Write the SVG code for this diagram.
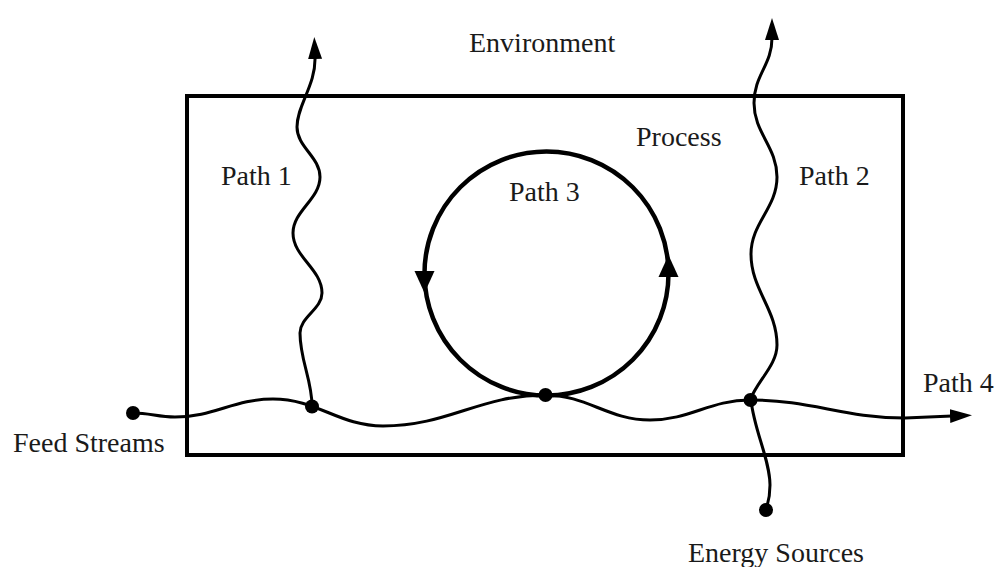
<svg xmlns="http://www.w3.org/2000/svg" width="997" height="567" viewBox="0 0 997 567">
  <style>
    .lbl { font-family: "Liberation Serif", "Times New Roman", serif; font-size: 28px; fill: #1a1a1a; }
    .wave { fill: none; stroke: #000; stroke-width: 3; stroke-linecap: round; stroke-linejoin: round; }
    .box { fill: none; stroke: #000; stroke-width: 4; }
    .loop { fill: none; stroke: #000; stroke-width: 4.5; }
    .dot { fill: #000; }
    .head { fill: #000; }
  </style>
  <defs>
    <marker id="arrow" markerUnits="userSpaceOnUse" markerWidth="24" markerHeight="16" refX="2" refY="7" orient="auto">
      <path d="M0,0 L22,7 L0,14 z" fill="#000"/>
    </marker>
  </defs>
  <rect width="997" height="567" fill="#fff"/>

  <g id="environment">
    <text class="lbl" x="469" y="52">Environment</text>
  </g>

  <g id="process">
    <rect class="box" x="187" y="96" width="716" height="359"/>
    <text class="lbl" x="636" y="146">Process</text>
  </g>

  <g id="path3">
    <circle class="loop" cx="546.5" cy="273.5" r="122"/>
    <polygon class="head" points="414.5,271 434.5,271 424.5,293"/>
    <polygon class="head" points="658.5,277 678.5,277 668.5,255"/>
    <text class="lbl" x="509" y="201">Path 3</text>
  </g>

  <g id="connectors">
    <path id="path4-line" class="wave" marker-end="url(#arrow)" d="M133,413 C150,413 158,417 175,417 C214,417 234,399 273,399 C317,399 339,426 383,426 C448,426 480,395 545,395 C587,395 608,420 650,420 C690,420 710,400 750,400 C812,400 843,418 905,418 L952,416"/>
    <path id="path1-line" class="wave" marker-end="url(#arrow)" d="M312,406 C312,380 300,360 300,333 C300,317 322,309 322,293 C322,269 293,257 293,233 C293,211 320,199 320,177 C320,157 297,147 297,127 C297,105 316,85 315,57"/>
    <path id="path2-line" class="wave" marker-end="url(#arrow)" d="M750,400 C758,380 777,365 777,345 C777,309 751,290 751,254 C751,223 777,208 777,177 C777,147 754,133 754,103 C754,75 772,65 772,38"/>
    <path id="energy-line" class="wave" d="M751,400 C754,430 770,460 770,485 C770,500 767,505 766,510"/>
  </g>

  <g id="feed-streams">
    <circle class="dot" cx="133" cy="413" r="7"/>
    <text class="lbl" x="13" y="452">Feed Streams</text>
  </g>
  <g id="junction-1">
    <circle class="dot" cx="312" cy="406.5" r="7"/>
  </g>
  <g id="junction-3">
    <circle class="dot" cx="545.5" cy="395" r="7"/>
  </g>
  <g id="junction-2">
    <circle class="dot" cx="750.5" cy="400" r="7"/>
  </g>
  <g id="energy-sources">
    <circle class="dot" cx="766" cy="510" r="7"/>
    <text class="lbl" x="688" y="562">Energy Sources</text>
  </g>

  <g id="labels">
    <text class="lbl" x="221" y="185">Path 1</text>
    <text class="lbl" x="799" y="185">Path 2</text>
    <text class="lbl" x="923" y="392">Path 4</text>
  </g>
</svg>
